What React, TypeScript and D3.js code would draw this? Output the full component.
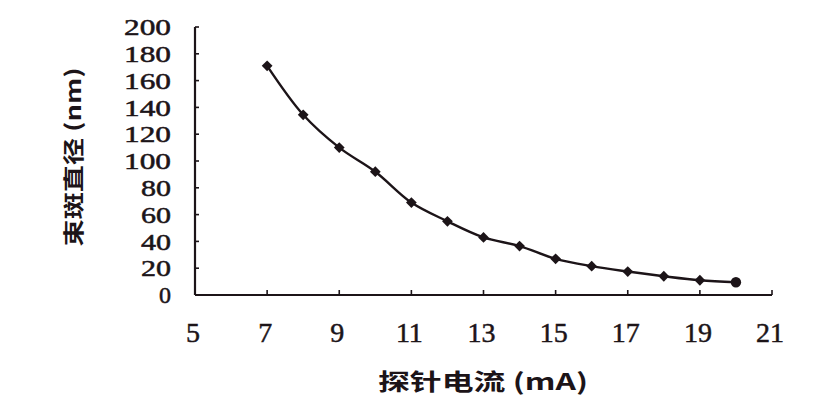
import React from "react";
import * as d3 from "d3";

const currents = [7, 8, 9, 10, 11, 12, 13, 14, 15, 16, 17, 18, 19, 20];
const diameters = [171, 134.5, 110, 92, 69, 55, 43, 36.5, 27, 21.5, 17.5, 14, 11, 9.5];
const xTicks = [5, 7, 9, 11, 13, 15, 17, 19, 21];
const yTicks = [0, 20, 40, 60, 80, 100, 120, 140, 160, 180, 200];
const xTitle = "探针电流 (mA)";
const yTitle = "束斑直径 (nm)";

const W = 834;
const H = 410;
const ink = "#1c1418";

export default function App() {
  const x = d3.scaleLinear().domain([5, 21]).range([195, 772]);
  const y = d3.scaleLinear().domain([0, 200]).range([295, 27]);
  const pts = currents.map((c, i) => [x(c), y(diameters[i])] as [number, number]);
  const line = d3.line().curve(d3.curveCatmullRom.alpha(0.5))(pts) || "";
  const diamond = d3.symbol().type(d3.symbolSquare).size(58)() || "";
  const circle = d3.symbol().type(d3.symbolCircle).size(85)() || "";

  return (
    <svg width={W} height={H} style={{ position: "absolute", left: 0, top: 0, background: "#fff" }}>
      <rect x={0} y={0} width={W} height={H} fill="#fff" />
      {/* axes */}
      <line x1={x(5)} y1={y(200)} x2={x(5)} y2={y(0)} stroke={ink} strokeWidth={2.2} />
      <line x1={x(5)} y1={y(0)} x2={x(21)} y2={y(0)} stroke={ink} strokeWidth={2.2} />
      {yTicks.map((t) => (
        <g key={"y" + t}>
          <line x1={x(5)} x2={x(5) + 4} y1={y(t)} y2={y(t)} stroke={ink} strokeWidth={1.6} />
          <text
            x={171}
            y={y(t) + 3}
            textAnchor="end"
            dominantBaseline="middle"
            fontFamily="'Liberation Serif', serif"
            fontSize={23}
            fill={ink}
            stroke={ink}
            strokeWidth={0.5}
            textLength={t === 0 ? 12 : t < 100 ? 30 : 47}
            lengthAdjust="spacingAndGlyphs"
          >
            {t}
          </text>
        </g>
      ))}
      {xTicks.map((t) => (
        <g key={"x" + t}>
          <line x1={x(t)} x2={x(t)} y1={y(0)} y2={y(0) - 5} stroke={ink} strokeWidth={1.6} />
          <text
            x={x(t) - 2}
            y={342}
            textAnchor="middle"
            fontFamily="'Liberation Serif', serif"
            fontSize={28}
            fill={ink}
            stroke={ink}
            strokeWidth={0.5}
          >
            {t}
          </text>
        </g>
      ))}
      {/* series */}
      <path d={line} fill="none" stroke={ink} strokeWidth={2.4} />
      {pts.map((p, i) => (
        <path
          key={"m" + i}
          d={i === pts.length - 1 ? circle : diamond}
          transform={`translate(${p[0]},${p[1]}) rotate(45)`}
          fill={ink}
        />
      ))}
      {/* titles */}
      <text
        x={483}
        y={390}
        textAnchor="middle"
        fontFamily="'Noto Sans CJK SC', sans-serif"
        fontWeight="bold"
        fontSize={23}
        fill={ink}
        textLength={210}
        lengthAdjust="spacingAndGlyphs"
      >
        {xTitle}
      </text>
      <text
        transform="translate(81,157) rotate(-90)"
        textAnchor="middle"
        fontFamily="'Noto Sans CJK SC', sans-serif"
        fontWeight="bold"
        fontSize={21}
        fill={ink}
        textLength={179}
        lengthAdjust="spacingAndGlyphs"
      >
        {yTitle}
      </text>
    </svg>
  );
}
